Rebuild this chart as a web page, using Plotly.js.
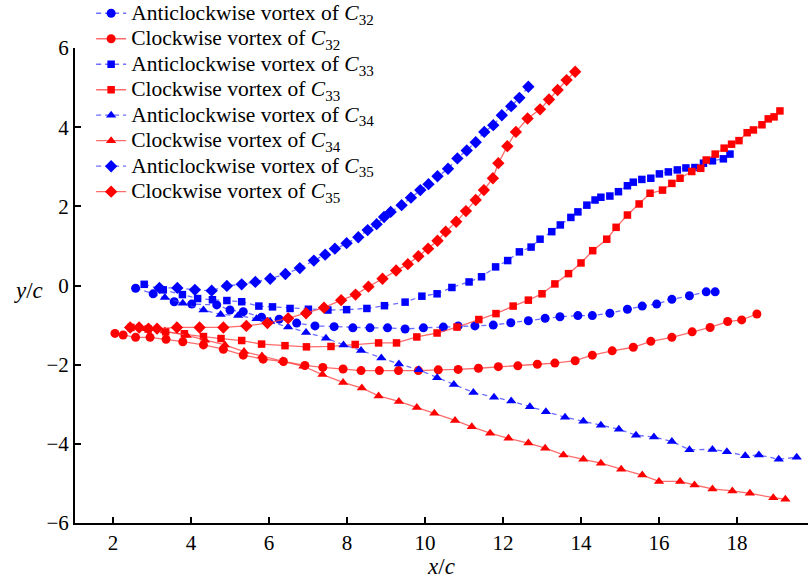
<!DOCTYPE html>
<html>
<head>
<meta charset="utf-8">
<script src="https://cdn.plot.ly/plotly-3.0.1.min.js"></script>
<style>html,body{margin:0;padding:0;background:#fff;}#chart{width:808px;height:579px;}</style>
</head>
<body>
<div id="chart"></div>
<script>
// C32 anticlockwise (blue circles)
const c32aX = [2.58,3.03,3.57,4.02,4.66,5.00,5.34,5.81,6.26,6.71,7.18,7.67,8.15,8.59,9.04,9.49,9.96,10.47,10.85,11.28,11.75,12.20,12.65,13.08,13.46,13.92,14.29,14.74,15.19,15.57,15.94,16.33,16.78,17.21,17.44];
const c32aY = [-0.07,-0.21,-0.41,-0.47,-0.49,-0.62,-0.66,-0.80,-0.85,-0.95,-1.02,-1.04,-1.07,-1.07,-1.07,-1.10,-1.07,-1.05,-1.02,-1.02,-1.00,-0.94,-0.89,-0.83,-0.79,-0.76,-0.76,-0.70,-0.60,-0.52,-0.47,-0.35,-0.26,-0.16,-0.16];
// C32 clockwise (red circles)
const c32cX = [2.05,2.26,2.58,2.95,3.36,3.79,4.32,4.83,5.34,5.85,6.37,6.92,7.38,7.90,8.36,8.83,9.32,9.83,10.34,10.85,11.37,11.88,12.38,12.88,13.33,13.85,14.29,14.80,15.34,15.79,16.33,16.85,17.31,17.76,18.12,18.51];
const c32cY = [-1.21,-1.25,-1.31,-1.31,-1.36,-1.42,-1.50,-1.61,-1.76,-1.86,-1.92,-2.02,-2.07,-2.11,-2.15,-2.15,-2.15,-2.15,-2.13,-2.12,-2.09,-2.05,-2.03,-1.99,-1.96,-1.90,-1.76,-1.65,-1.56,-1.41,-1.31,-1.17,-1.06,-0.91,-0.87,-0.72];
// C33 anticlockwise (blue squares)
const c33aX = [2.80,3.29,3.78,4.17,4.55,4.92,5.30,5.74,6.09,6.54,7.01,7.51,7.99,8.51,8.96,9.49,9.92,10.31,10.69,11.13,11.45,11.81,12.12,12.42,12.72,12.95,13.25,13.47,13.74,13.92,14.15,14.36,14.51,14.74,14.96,15.19,15.34,15.56,15.79,16.01,16.24,16.47,16.69,16.92,17.14,17.37,17.65,17.82];
const c33aY = [0.03,-0.11,-0.23,-0.33,-0.36,-0.38,-0.41,-0.52,-0.54,-0.58,-0.60,-0.62,-0.61,-0.58,-0.51,-0.42,-0.27,-0.21,-0.05,0.09,0.22,0.47,0.63,0.85,0.97,1.17,1.36,1.53,1.72,1.86,2.03,2.16,2.23,2.26,2.37,2.52,2.61,2.68,2.71,2.82,2.87,2.92,2.97,2.98,3.09,3.15,3.20,3.32];
// C33 clockwise (red squares)
const c33cX = [2.46,2.90,3.35,3.83,4.32,4.77,5.30,5.81,6.41,6.96,7.59,8.21,8.81,9.27,9.79,10.31,10.82,11.38,11.82,12.26,12.65,13.00,13.33,13.68,14.00,14.30,14.66,14.90,15.19,15.49,15.77,16.09,16.33,16.54,16.84,17.07,17.21,17.44,17.67,17.86,18.05,18.26,18.42,18.64,18.80,18.95,19.10];
const c33cY = [-1.06,-1.10,-1.17,-1.22,-1.29,-1.34,-1.39,-1.48,-1.52,-1.55,-1.54,-1.49,-1.45,-1.45,-1.30,-1.20,-1.05,-0.86,-0.71,-0.52,-0.37,-0.21,0.04,0.30,0.57,0.88,1.17,1.47,1.78,2.06,2.33,2.41,2.58,2.71,2.88,2.96,3.17,3.32,3.47,3.57,3.66,3.86,3.93,4.06,4.21,4.26,4.41];
// C34 anticlockwise (blue triangles)
const c34aX = [3.33,3.79,4.32,4.76,5.21,5.68,6.03,6.49,6.95,7.46,7.91,8.36,8.88,9.33,9.84,10.31,10.74,11.24,11.77,12.21,12.69,13.10,13.59,14.06,14.51,14.97,15.41,15.87,16.33,16.78,17.37,17.74,18.21,18.56,19.07,19.53];
const c34aY = [-0.30,-0.45,-0.62,-0.73,-0.76,-0.84,-0.91,-1.05,-1.19,-1.33,-1.50,-1.64,-1.83,-1.98,-2.13,-2.33,-2.50,-2.70,-2.82,-2.92,-3.06,-3.19,-3.33,-3.43,-3.53,-3.63,-3.78,-3.83,-3.94,-4.15,-4.14,-4.20,-4.30,-4.28,-4.39,-4.34];
// C34 clockwise (red triangles)
const c34cX = [2.87,3.33,3.89,4.36,4.87,5.36,5.82,6.35,6.88,7.37,7.90,8.38,8.81,9.33,9.79,10.24,10.77,11.20,11.67,12.14,12.65,13.08,13.55,14.06,14.51,15.03,15.57,16.00,16.54,16.91,17.37,17.88,18.33,18.93,19.24];
const c34cY = [-1.09,-1.15,-1.26,-1.38,-1.50,-1.67,-1.78,-1.90,-2.04,-2.25,-2.45,-2.59,-2.79,-2.93,-3.08,-3.23,-3.41,-3.57,-3.73,-3.86,-3.98,-4.11,-4.28,-4.39,-4.49,-4.64,-4.79,-4.95,-4.95,-5.04,-5.14,-5.19,-5.25,-5.36,-5.40];
// C35 anticlockwise (blue diamonds)
const c35aX = [3.19,3.65,4.10,4.53,4.92,5.30,5.65,6.03,6.42,6.79,7.15,7.44,7.69,7.99,8.29,8.53,8.76,8.95,9.12,9.40,9.64,9.88,10.09,10.32,10.59,10.83,11.07,11.30,11.52,11.75,11.97,12.21,12.42,12.65];
const c35aY = [-0.06,-0.06,-0.11,-0.13,-0.01,0.03,0.09,0.17,0.29,0.44,0.63,0.78,0.93,1.07,1.22,1.40,1.55,1.73,1.86,2.03,2.22,2.41,2.56,2.76,2.95,3.21,3.41,3.62,3.88,4.05,4.30,4.53,4.74,5.02];
// C35 clockwise (red diamonds)
const c35cX = [2.44,2.67,2.91,3.13,3.64,4.22,4.83,5.42,5.96,6.49,6.95,7.41,7.85,8.22,8.55,8.91,9.26,9.56,9.83,10.08,10.32,10.53,10.80,11.05,11.30,11.51,11.74,11.88,12.11,12.33,12.63,12.95,13.18,13.40,13.63,13.85];
const c35cY = [-1.06,-1.06,-1.09,-1.09,-1.06,-1.06,-1.06,-1.02,-0.95,-0.83,-0.70,-0.56,-0.37,-0.23,-0.03,0.17,0.38,0.54,0.74,0.93,1.13,1.36,1.61,1.88,2.16,2.41,2.71,3.09,3.52,3.88,4.22,4.45,4.70,4.94,5.19,5.40];

const xTicks = [2,4,6,8,10,12,14,16,18];
const yTicks = [-6,-4,-2,0,2,4,6];
const names = [
  'Anticlockwise vortex of <i>C</i><sub>32</sub>',
  'Clockwise vortex of <i>C</i><sub>32</sub>',
  'Anticlockwise vortex of <i>C</i><sub>33</sub>',
  'Clockwise vortex of <i>C</i><sub>33</sub>',
  'Anticlockwise vortex of <i>C</i><sub>34</sub>',
  'Clockwise vortex of <i>C</i><sub>34</sub>',
  'Anticlockwise vortex of <i>C</i><sub>35</sub>',
  'Clockwise vortex of <i>C</i><sub>35</sub>'
];

const BLUE = 'rgb(0,0,255)', RED = 'rgb(255,0,0)';
function tr(x, y, name, sym, anti, size) {
  return {
    x: x, y: y, type: 'scatter', mode: 'lines+markers',
    name: '<span style="font-size:21.5px">' + name + '</span>',
    line: anti ? {color: 'rgba(60,60,255,0.75)', width: 1.3, dash: '5px,4px'} : {color: 'rgba(255,70,70,0.8)', width: 1.3},
    marker: {symbol: sym, size: size, color: anti ? BLUE : RED, line: {width: 0}}
  };
}
const data = [
  tr(c32aX, c32aY, names[0], 'circle', true, 9),
  tr(c32cX, c32cY, names[1], 'circle', false, 9),
  tr(c33aX, c33aY, names[2], 'square', true, 7.5),
  tr(c33cX, c33cY, names[3], 'square', false, 7.5),
  tr(c34aX, c34aY, names[4], 'triangle-up', true, 9),
  tr(c34cX, c34cY, names[5], 'triangle-up', false, 9),
  tr(c35aX, c35aY, names[6], 'diamond', true, 9.5),
  tr(c35cX, c35cY, names[7], 'diamond', false, 9.5)
];

const FONT = 'Liberation Serif, Times New Roman, serif';
const layout = {
  width: 808, height: 579,
  margin: {l: 75, r: 0, t: 48, b: 56, autoexpand: false},
  paper_bgcolor: '#fff', plot_bgcolor: '#fff',
  font: {family: FONT, size: 20, color: '#000'},
  showlegend: true,
  legend: {x: 0.022, y: 1.1105, xanchor: 'left', yanchor: 'top', bgcolor: 'rgba(0,0,0,0)',
           font: {family: FONT, size: 17.3, color: '#000'}, tracegroupgap: 0, itemwidth: 30},
  xaxis: {
    range: [1.026, 19.82], tickvals: xTicks, ticktext: xTicks.map(String),
    showgrid: false, zeroline: false, showline: true, linecolor: '#000', linewidth: 2,
    ticks: 'inside', ticklen: 6, tickwidth: 2, tickcolor: '#000',
    tickfont: {family: FONT, size: 21, color: '#000'},
    title: {text: '<i>x</i>/<i>c</i>', font: {family: FONT, size: 23, color: '#000'}, standoff: 4}
  },
  yaxis: {
    range: [-6, 6], tickvals: yTicks,
    showgrid: false, zeroline: false, showline: true, linecolor: '#000', linewidth: 2,
    ticks: 'inside', ticklen: 6, tickwidth: 2, tickcolor: '#000',
    tickfont: {family: FONT, size: 21, color: '#000'}
  },
  annotations: [
    {text: '<i>y</i>/<i>c</i>', xref: 'paper', yref: 'paper', x: -0.063, y: 0.49,
     xanchor: 'center', yanchor: 'middle', showarrow: false, font: {family: FONT, size: 23, color: '#000'}}
  ]
};
Plotly.newPlot('chart', data, layout, {displayModeBar: false, staticPlot: true});
</script>
</body>
</html>
